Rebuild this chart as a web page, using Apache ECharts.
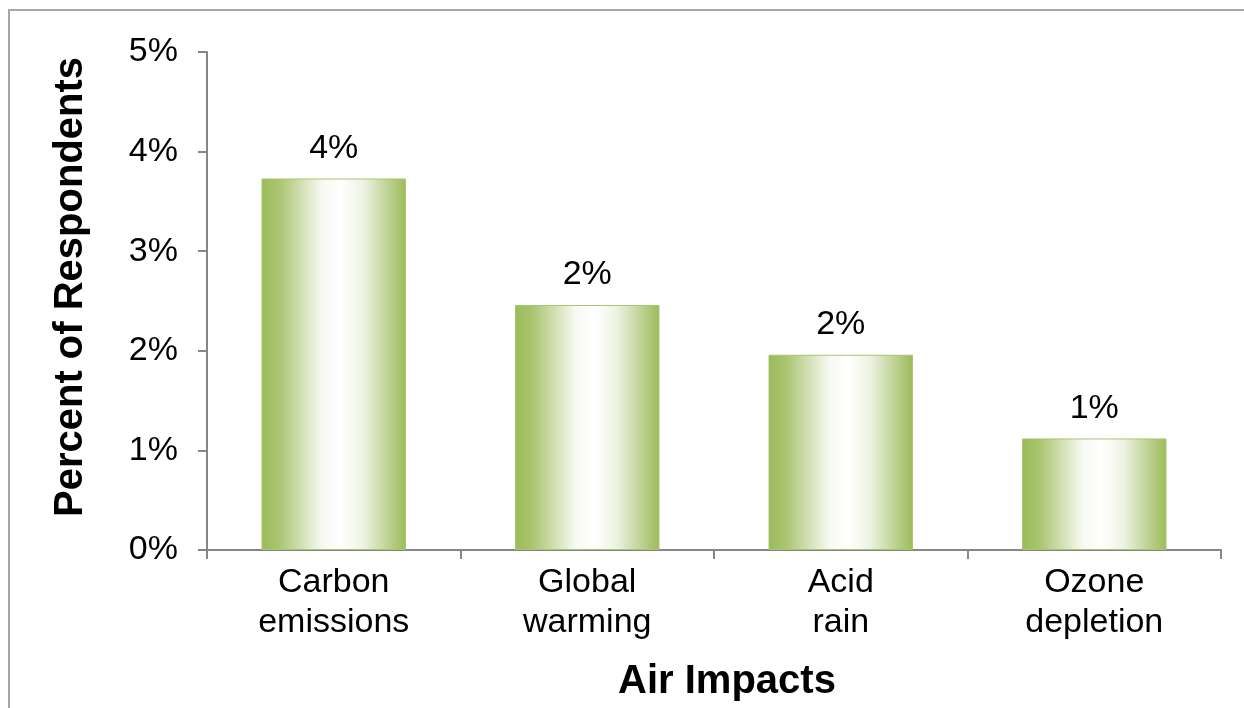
<!DOCTYPE html>
<html>
<head>
<meta charset="utf-8">
<title>Air Impacts</title>
<script src="https://cdn.jsdelivr.net/npm/echarts@6/dist/echarts.min.js"></script>
<style>
    html, body { margin: 0; padding: 0; background: #fff; }
    #container { width: 1244px; height: 708px; }
</style>
</head>
<body>
<div id="container"></div>
<script>
// categories and values (percent of respondents)
var categories = ["Carbon\nemissions", "Global\nwarming", "Acid\nrain", "Ozone\ndepletion"];
var values = [3.73, 2.46, 1.96, 1.12];
var yTicks = [0, 1, 2, 3, 4, 5];

var dom = document.getElementById("container");
var myChart = echarts.init(dom);

// bar fill: green at the edges, white in the middle
var barFill = new echarts.graphic.LinearGradient(0, 0, 1, 0, [
    {offset: 0, color: '#9bbb59'},
    {offset: 0.12, color: '#a9c56f'},
    {offset: 0.42, color: '#f7f9f2'},
    {offset: 0.55, color: '#ffffff'},
    {offset: 0.7, color: '#eef3e4'},
    {offset: 1, color: '#9bbb59'}
]);

var axisFont = 'Liberation Sans, Arial, sans-serif';

var option = {
    animation: false,
    backgroundColor: '#fff',
    graphic: [{
        type: 'rect',
        shape: {x: 9, y: 10, width: 1400, height: 900},
        style: {fill: 'none', stroke: '#a6a6a6', lineWidth: 2},
        silent: true
    }],
    grid: {left: 207, top: 52, right: 23, bottom: 158},
    xAxis: {
        type: 'category',
        data: categories,
        name: 'Air Impacts',
        nameLocation: 'middle',
        nameGap: 112,
        nameTextStyle: {
            fontFamily: axisFont, fontSize: 40, fontWeight: 'bold', color: '#000',
            padding: [0, 0, 0, 26]
        },
        axisLine: {lineStyle: {color: '#868686', width: 2}},
        axisTick: {show: true, length: 9, lineStyle: {color: '#868686', width: 2}},
        axisLabel: {
            fontFamily: axisFont, fontSize: 34, color: '#000',
            lineHeight: 40, margin: 13, interval: 0
        }
    },
    yAxis: {
        type: 'value',
        min: 0,
        max: 5,
        interval: 1,
        name: 'Percent of Respondents',
        nameLocation: 'middle',
        nameGap: 116,
        nameTextStyle: {
            fontFamily: axisFont, fontSize: 40, fontWeight: 'bold', color: '#000',
            padding: [0, 0, 0, 28]
        },
        axisLine: {show: true, lineStyle: {color: '#868686', width: 2}},
        axisTick: {show: true, length: 9, lineStyle: {color: '#868686', width: 2}},
        splitLine: {show: false},
        axisLabel: {
            fontFamily: axisFont, fontSize: 34, color: '#000', margin: 29,
            customValues: yTicks,
            formatter: function(v) { return v + '%'; }
        }
    },
    series: [{
        type: 'bar',
        data: values,
        barCategoryGap: '43%',
        itemStyle: {color: barFill, borderColor: '#a9c46f', borderWidth: 1},
        label: {
            show: true,
            position: 'top',
            distance: 13,
            fontFamily: axisFont,
            fontSize: 34,
            color: '#000',
            formatter: function(p) { return Math.round(p.value) + '%'; }
        }
    }]
};

myChart.setOption(option, true);
</script>
</body>
</html>
